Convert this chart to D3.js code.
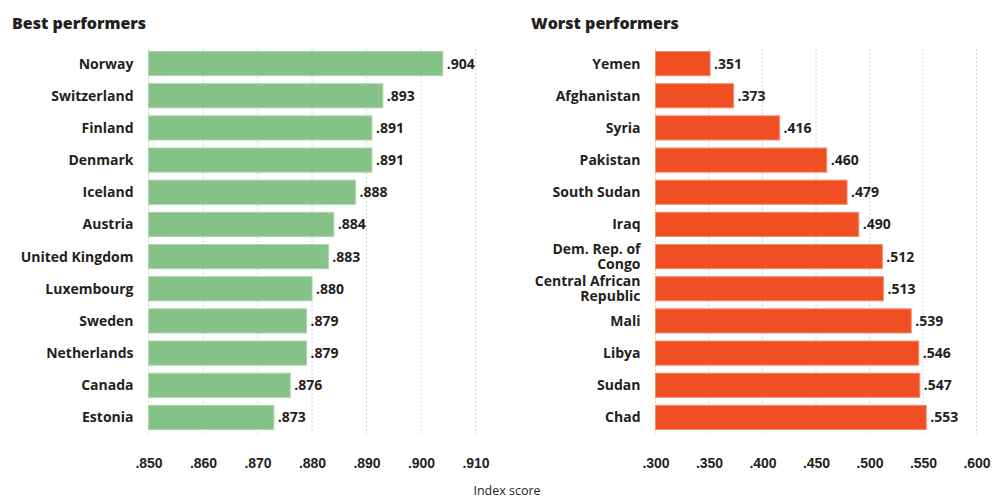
<!DOCTYPE html>
<html>
<head>
<meta charset="utf-8">
<script src="https://cdn.jsdelivr.net/npm/d3@7.9.0/dist/d3.min.js"></script>
<style>
  body { margin: 0; background: #fff; }
  svg { display: block; font-family: "Open Sans", Lato, sans-serif; }
  .title { font-size: 16px; font-weight: 800; fill: #231f20; }
  .country { font-size: 14px; font-weight: 700; fill: #231f20; }
  .value { font-size: 14px; font-weight: 700; fill: #231f20; }
  .tick text { font-size: 14px; font-weight: 700; fill: #231f20; }
  .grid line { stroke: #c8c8c8; stroke-dasharray: 1.5 2.5; }
</style>
</head>
<body>
<svg id="chart" width="994" height="499"></svg>
<script>
/* ---------- Data ---------- */
const bestCountries = ["Norway", "Switzerland", "Finland", "Denmark", "Iceland", "Austria",
  "United Kingdom", "Luxembourg", "Sweden", "Netherlands", "Canada", "Estonia"];
const bestScores = [0.904, 0.893, 0.891, 0.891, 0.888, 0.884, 0.883, 0.880, 0.879, 0.879, 0.876, 0.873];
const bestTicks = [0.850, 0.860, 0.870, 0.880, 0.890, 0.900, 0.910];

const worstCountries = ["Yemen", "Afghanistan", "Syria", "Pakistan", "South Sudan", "Iraq",
  "Dem. Rep. of|Congo", "Central African|Republic", "Mali", "Libya", "Sudan", "Chad"];
const worstScores = [0.351, 0.373, 0.416, 0.460, 0.479, 0.490, 0.512, 0.513, 0.539, 0.546, 0.547, 0.553];
const worstTicks = [0.300, 0.350, 0.400, 0.450, 0.500, 0.550, 0.600];

const svg = d3.select('#chart');
const fmt = v => d3.format('.3f')(v).replace(/^0/, '');

/* ---------- One panel ---------- */
function drawPanel(opts) {
  const { title, countries, scores, ticks, x0, x1, titleX, color, stroke } = opts;
  const g = svg.append('g');

  const x = d3.scaleLinear().domain([ticks[0], ticks[ticks.length - 1]]).range([x0, x1]);
  const y = d3.scaleBand().domain(d3.range(countries.length)).range([47.5, 433.5]).paddingInner(0.25).paddingOuter(0.125);

  g.append('text').attr('class', 'title').attr('x', titleX).attr('y', 29).text(title);

  // dotted gridlines
  g.append('g').attr('class', 'grid')
    .selectAll('line').data(ticks).enter().append('line')
    .attr('x1', d => x(d)).attr('x2', d => x(d))
    .attr('y1', 49).attr('y2', 434);

  // bars
  g.selectAll('rect.bar').data(scores).enter().append('rect')
    .attr('class', 'bar')
    .attr('x', x(ticks[0]))
    .attr('y', (d, i) => y(i))
    .attr('width', d => x(d) - x(ticks[0]))
    .attr('height', y.bandwidth())
    .attr('fill', color)
    .attr('stroke', stroke)
    .attr('stroke-width', 1);

  // values
  g.selectAll('text.value').data(scores).enter().append('text')
    .attr('class', 'value')
    .attr('x', d => x(d) + 4)
    .attr('y', (d, i) => y(i) + y.bandwidth() / 2)
    .attr('dy', '0.36em')
    .text(fmt);

  // country labels (| = line break)
  const lineH = 15;
  g.selectAll('text.country').data(countries).enter().append('text')
    .attr('class', 'country')
    .attr('text-anchor', 'end')
    .attr('x', x0 - 15)
    .attr('y', (d, i) => y(i) + y.bandwidth() / 2 + 5)
    .each(function (d) {
      const parts = d.split('|');
      const t = d3.select(this);
      parts.forEach((p, k) => {
        t.append('tspan').attr('x', x0 - 15)
          .attr('dy', k === 0 ? -(parts.length - 1) * lineH / 2 : lineH)
          .text(p);
      });
    });

  // axis
  const axis = d3.axisBottom(x).tickValues(ticks).tickFormat(fmt).tickSize(0).tickPadding(0);
  const ag = g.append('g').attr('transform', 'translate(0,468)').call(axis);
  ag.select('.domain').remove();
  ag.selectAll('text').attr('dy', 0);
}

drawPanel({
  title: 'Best performers', countries: bestCountries, scores: bestScores, ticks: bestTicks,
  x0: 148.5, x1: 475.5, titleX: 12, color: '#85c287', stroke: '#a9d5aa'
});
drawPanel({
  title: 'Worst performers', countries: worstCountries, scores: worstScores, ticks: worstTicks,
  x0: 655.5, x1: 976.5, titleX: 531, color: '#f04e23', stroke: '#f58a6c'
});

svg.append('text')
  .attr('x', 507).attr('y', 495)
  .attr('text-anchor', 'middle')
  .style('font-size', '12.5px').style('fill', '#231f20')
  .text('Index score');
</script>
</body>
</html>
